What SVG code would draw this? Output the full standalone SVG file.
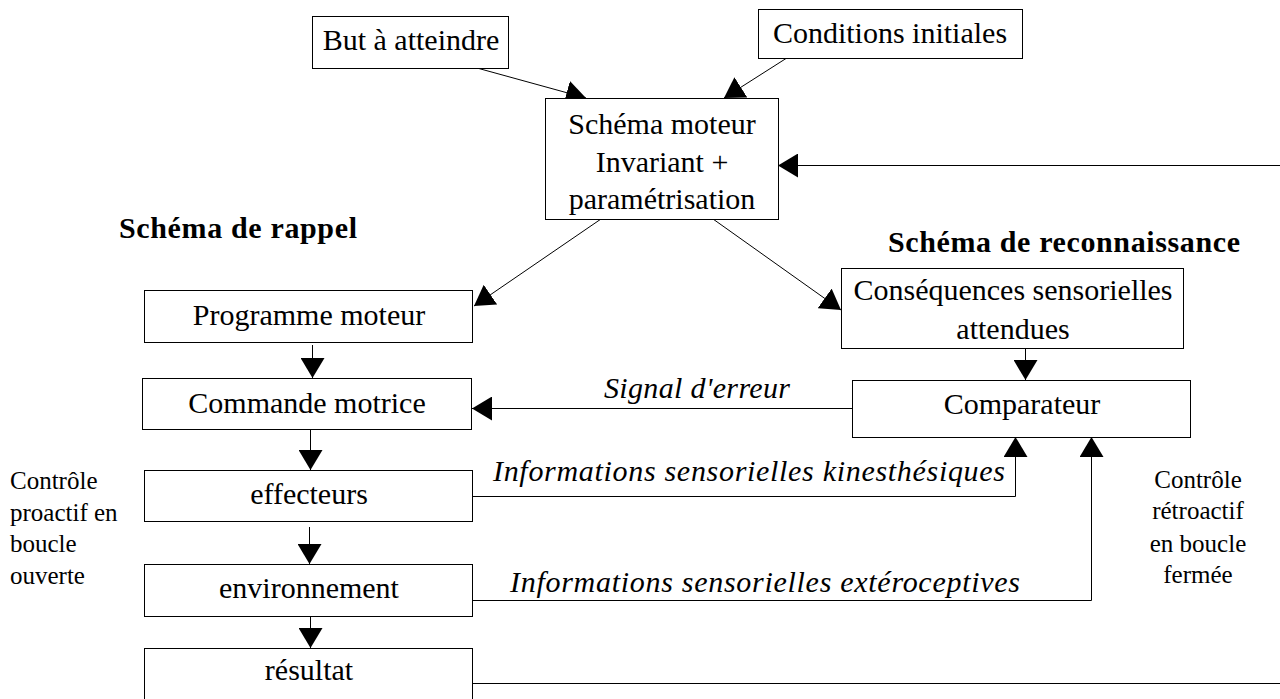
<svg xmlns="http://www.w3.org/2000/svg" width="1280" height="699" viewBox="0 0 1280 699">
<defs>
<style>
.box{fill:#fff;stroke:#000;stroke-width:1}
.t{font-family:"Liberation Serif","Times New Roman",serif;font-size:30px;fill:#000;text-anchor:middle}
.b{font-family:"Liberation Serif","Times New Roman",serif;font-size:30px;font-weight:bold;fill:#000}
.i{font-family:"Liberation Serif","Times New Roman",serif;font-size:30px;font-style:italic;fill:#000}
.s{font-family:"Liberation Serif","Times New Roman",serif;font-size:25px;fill:#000}
.c{fill:none;stroke:#000;stroke-width:1}
</style>
<marker id="ah" viewBox="0 0 20 24" markerWidth="20" markerHeight="24" refX="20" refY="12" orient="auto" markerUnits="userSpaceOnUse">
<path d="M0,0 L20,12 L0,24 z" fill="#000"/>
</marker>
</defs>
<rect width="1280" height="699" fill="#fff"/>

<g id="connectors">
<line class="c" x1="477" y1="68" x2="586" y2="98" marker-end="url(#ah)"/>
<line class="c" x1="786" y1="58.5" x2="724" y2="98" marker-end="url(#ah)"/>
<line class="c" x1="1280" y1="165.5" x2="778" y2="165.5" marker-end="url(#ah)"/>
<line class="c" x1="601" y1="219" x2="474" y2="306" marker-end="url(#ah)"/>
<line class="c" x1="713" y1="219" x2="841" y2="310" marker-end="url(#ah)"/>
<line class="c" x1="312.5" y1="345" x2="312.5" y2="378" marker-end="url(#ah)"/>
<line class="c" x1="310.5" y1="429" x2="310.5" y2="470" marker-end="url(#ah)"/>
<line class="c" x1="309.5" y1="527" x2="309.5" y2="564" marker-end="url(#ah)"/>
<line class="c" x1="310.5" y1="617" x2="310.5" y2="648" marker-end="url(#ah)"/>
<line class="c" x1="1025.5" y1="348" x2="1025.5" y2="380" marker-end="url(#ah)"/>
<line class="c" x1="852" y1="408.5" x2="472" y2="408.5" marker-end="url(#ah)"/>
<polyline class="c" points="473,496.5 1015.5,496.5 1015.5,437" marker-end="url(#ah)"/>
<polyline class="c" points="473,600.5 1091.5,600.5 1091.5,437" marker-end="url(#ah)"/>
<line class="c" x1="473" y1="683.5" x2="1280" y2="683.5"/>
</g>

<g id="but">
<rect class="box" x="312.5" y="16.5" width="196" height="52"/>
<text class="t" x="411" y="50">But à atteindre</text>
</g>
<g id="conditions">
<rect class="box" x="758.5" y="9.5" width="264" height="49"/>
<text class="t" x="890" y="43">Conditions initiales</text>
</g>
<g id="schema-moteur">
<rect class="box" x="545.5" y="98.5" width="233" height="121"/>
<text class="t" x="662" y="134">Schéma moteur</text>
<text class="t" x="662" y="172">Invariant +</text>
<text class="t" x="662" y="209">paramétrisation</text>
</g>
<g id="label-rappel">
<text class="b" x="119" y="238" textLength="238">Schéma de rappel</text>
</g>
<g id="label-reconnaissance">
<text class="b" x="888" y="252" textLength="352">Schéma de reconnaissance</text>
</g>
<g id="programme">
<rect class="box" x="144.5" y="290.5" width="328" height="52"/>
<text class="t" x="309" y="325">Programme moteur</text>
</g>
<g id="commande">
<rect class="box" x="142.5" y="378.5" width="329" height="51"/>
<text class="t" x="307" y="413">Commande motrice</text>
</g>
<g id="effecteurs">
<rect class="box" x="144.5" y="470.5" width="328" height="51"/>
<text class="t" x="309" y="504">effecteurs</text>
</g>
<g id="environnement">
<rect class="box" x="144.5" y="564.5" width="328" height="52"/>
<text class="t" x="309" y="598">environnement</text>
</g>
<g id="resultat">
<rect class="box" x="144.5" y="648.5" width="328" height="60"/>
<text class="t" x="309" y="680">résultat</text>
</g>
<g id="consequences">
<rect class="box" x="841.5" y="268.5" width="342" height="80"/>
<text class="t" x="1013" y="300">Conséquences sensorielles</text>
<text class="t" x="1013" y="339">attendues</text>
</g>
<g id="comparateur">
<rect class="box" x="852.5" y="380.5" width="338" height="57"/>
<text class="t" x="1022" y="414">Comparateur</text>
</g>
<g id="edge-labels">
<text class="i" x="604" y="398" textLength="186">Signal d'erreur</text>
<text class="i" x="493" y="481" textLength="512">Informations sensorielles kinesthésiques</text>
<text class="i" x="510" y="592" textLength="510">Informations sensorielles extéroceptives</text>
</g>
<g id="label-proactif">
<text class="s" x="10" y="489">Contrôle</text>
<text class="s" x="10" y="521">proactif en</text>
<text class="s" x="10" y="552">boucle</text>
<text class="s" x="10" y="584">ouverte</text>
</g>
<g id="label-retroactif">
<text class="s" x="1198" y="488" text-anchor="middle">Contrôle</text>
<text class="s" x="1198" y="519" text-anchor="middle">rétroactif</text>
<text class="s" x="1198" y="552" text-anchor="middle">en boucle</text>
<text class="s" x="1198" y="583" text-anchor="middle">fermée</text>
</g>
</svg>
